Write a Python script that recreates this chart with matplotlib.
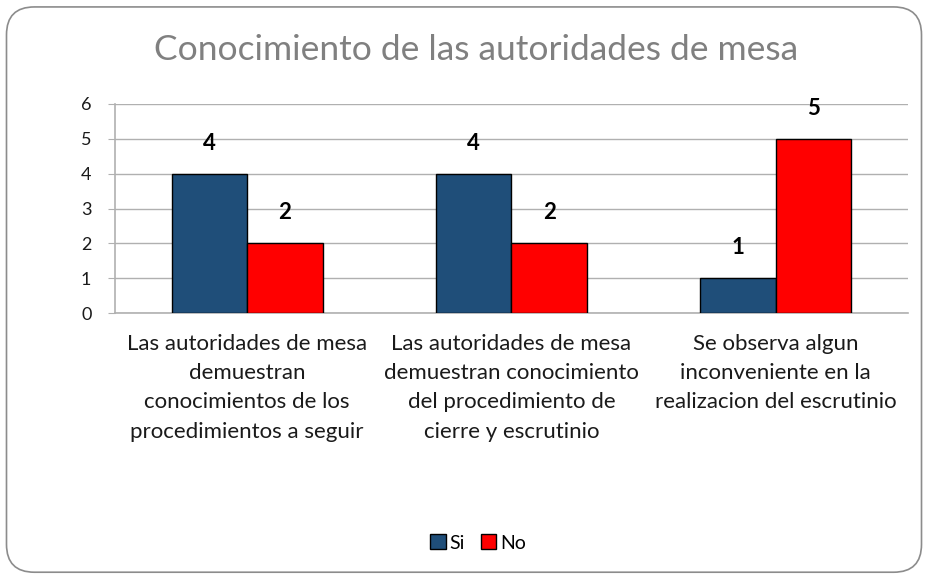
import matplotlib
matplotlib.use("Agg")
import matplotlib.pyplot as plt
from matplotlib.patches import FancyBboxPatch
import numpy as np

categories = [
    "Las autoridades de mesa\ndemuestran\nconocimientos de los\nprocedimientos a seguir",
    "Las autoridades de mesa\ndemuestran conocimiento\ndel procedimiento de\ncierre y escrutinio",
    "Se observa algun\ninconveniente en la\nrealizacion del escrutinio",
]
si_values = [4, 4, 1]
no_values = [2, 2, 5]
series_names = ["Si", "No"]
title = "Conocimiento de las autoridades de mesa"
yticks = [0, 1, 2, 3, 4, 5, 6]

plt.rcParams['font.family'] = ['Lato', 'DejaVu Sans']

fig = plt.figure(figsize=(9.28, 5.78), dpi=100)
fig.patch.set_facecolor("white")

# rounded border
border = FancyBboxPatch((0.007, 0.01), 0.986, 0.978,
                        boxstyle="round,pad=0,rounding_size=0.03",
                        transform=fig.transFigure, facecolor="none",
                        edgecolor="#8c8c8c", linewidth=1.2, mutation_aspect=928/578)
fig.patches.append(border)

ax = fig.add_axes([115/928, 1-313/578, (908-115)/928, (313-104)/578])

x = np.arange(len(categories))
w = 0.285
b1 = ax.bar(x - w/2, si_values, w, color="#1f4e79", edgecolor="black", linewidth=1, label=series_names[0], zorder=3)
b2 = ax.bar(x + w/2, no_values, w, color="#ff0000", edgecolor="black", linewidth=1, label=series_names[1], zorder=3)

for bars in (b1, b2):
    for rect in bars:
        ax.annotate(f"{int(rect.get_height())}",
                    (rect.get_x() + rect.get_width()/2, rect.get_height()),
                    xytext=(0, 22), textcoords="offset points",
                    ha="center", va="center", fontsize=16, fontweight="bold", color="black")

ax.set_xlim(-0.5, 2.5)
ax.set_ylim(0, 6)
ax.set_yticks(yticks)
ax.yaxis.grid(True, color="#b0b0b0", linewidth=1, zorder=0)
ax.set_axisbelow(True)
ax.tick_params(axis="y", length=5, color="#b0b0b0", labelsize=13, labelcolor="#1a1a1a", pad=12)
ax.set_xticks(x)
ax.set_xticklabels(categories, fontsize=16, color="#1a1a1a", linespacing=1.58)
ax.tick_params(axis="x", length=0, pad=15)
for s in ["top", "right"]:
    ax.spines[s].set_visible(False)
for s in ["left", "bottom"]:
    ax.spines[s].set_color("#b0b0b0")
    ax.spines[s].set_linewidth(1.2)

fig.text(476/928, 1-50/578, title, ha="center", va="center", fontsize=25.5, color="#808080")

leg = fig.legend(handles=[b1, b2], labels=series_names, loc="center",
                 bbox_to_anchor=(478/928, 1-543/578), ncol=2, frameon=False,
                 fontsize=14, handlelength=0.8, handleheight=0.8, handletextpad=0.2,
                 columnspacing=0.8)

fig.savefig("out.png", dpi=100, facecolor="white")
